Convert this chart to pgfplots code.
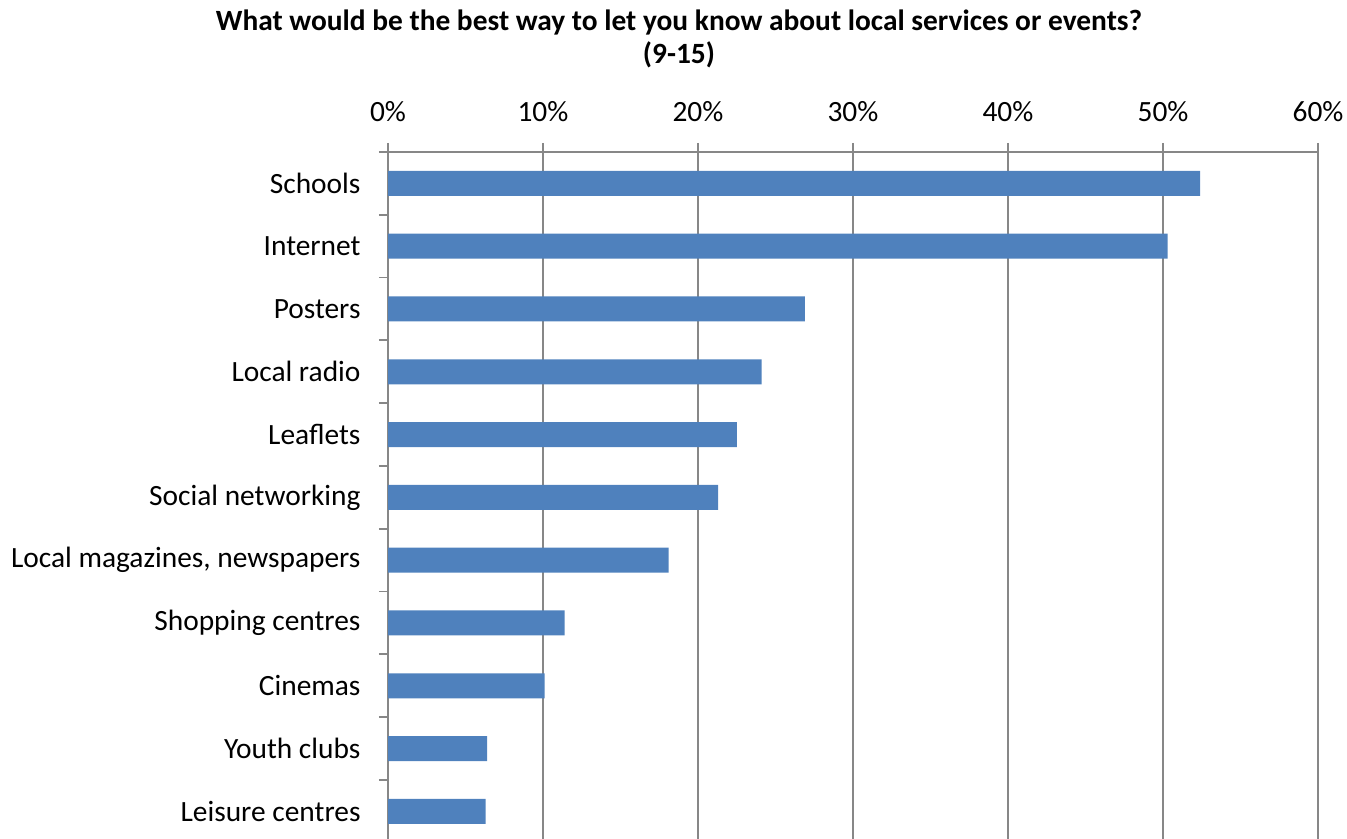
\documentclass[border=0pt]{standalone}
\usepackage{pgfplots}
\pgfplotsset{compat=1.18}
\usepackage{fontspec}
\setmainfont{Carlito}
\definecolor{barblue}{HTML}{4F81BD}
\definecolor{gridgray}{HTML}{878787}
\begin{document}
\begin{tikzpicture}
\useasboundingbox (0,0) rectangle (1347bp,839bp);
\node[font=\fontsize{29.4bp}{35bp}\selectfont\bfseries, anchor=base] at (679bp,808bp) {What would be the best way to let you know about local services or events?};
\node[font=\fontsize{29.4bp}{35bp}\selectfont\bfseries, anchor=base] at (679bp,775bp) {(9-15)};
\begin{axis}[
  at={(388bp,0bp)}, anchor=south west,
  scale only axis, width=930bp, height=687bp,
  xmin=0, xmax=60, ymin=-0.44, ymax=10.5,
  xbar, bar width=25bp,
  axis x line*=top, axis y line*=left,
  axis line style={draw=gridgray, line width=1.8bp},
  xtick={0,10,...,60},
  xticklabel={\pgfmathprintnumber{\tick}\%},
  minor xtick={0,10,...,60},
  minor ytick={-0.5,0.5,...,10.5},
  ytick={0,...,10},
  yticklabels={Leisure centres, Youth clubs, Cinemas, Shopping centres, {Local magazines, newspapers}, Social networking, Leaflets, Local radio, Posters, Internet, Schools},
  major tick length=0pt, minor tick length=9bp, tick align=outside,
  tick style={draw=gridgray, line width=1.8bp},
  xmajorgrids, grid style={draw=gridgray, line width=1.8bp},
  ticklabel style={font=\fontsize{29.4bp}{35bp}\selectfont},
  xticklabel style={anchor=base, yshift=30bp},
  yticklabel style={xshift=-24bp},
  /pgf/number format/assume math mode=true,
  clip=false,
]
\addplot[fill=barblue, draw=none] coordinates {
(6.3,0) (6.4,1) (10.1,2) (11.4,3) (18.1,4) (21.3,5) (22.5,6) (24.1,7) (26.9,8) (50.3,9) (52.4,10)
};
\end{axis}
\end{tikzpicture}
\end{document}
